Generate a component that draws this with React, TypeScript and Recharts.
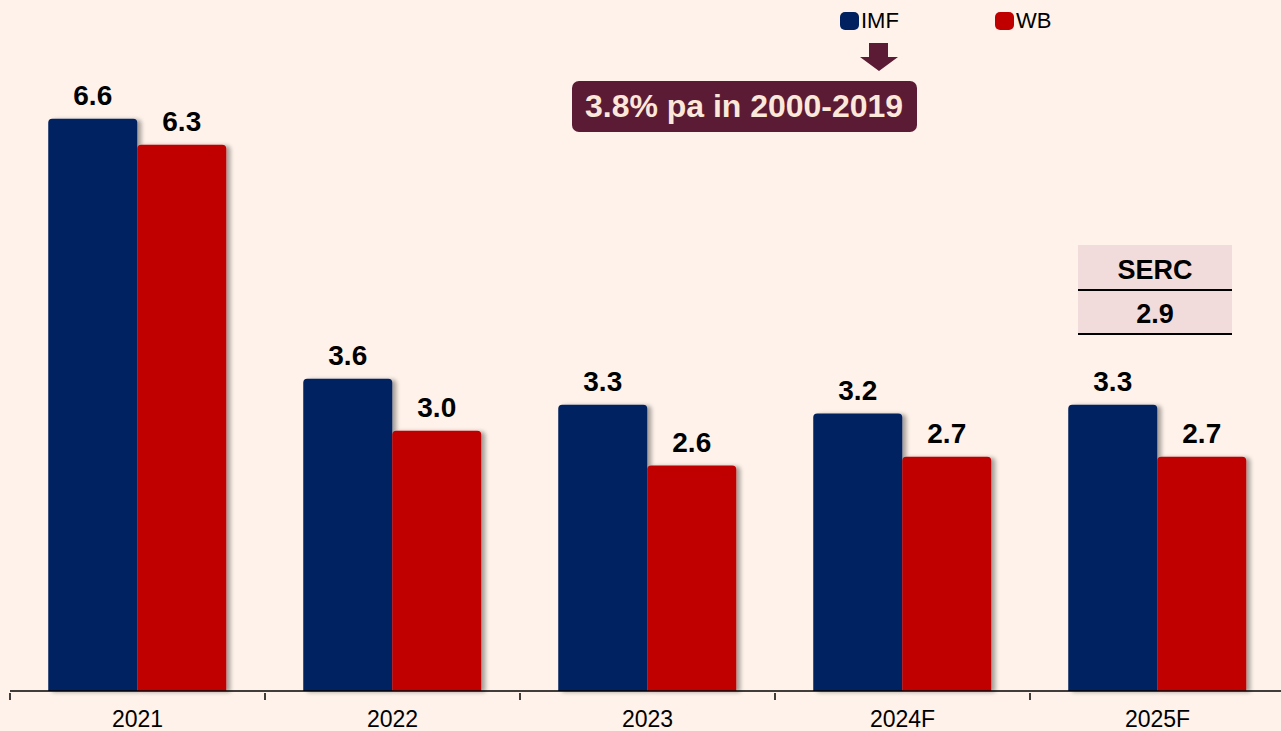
import React from "react";
import { Bar, BarChart, LabelList, XAxis, YAxis } from "recharts";

// Real GDP growth forecasts (%)
const years = ["2021", "2022", "2023", "2024F", "2025F"];
const imf = [6.6, 3.6, 3.3, 3.2, 3.3];
const wb = [6.3, 3.0, 2.6, 2.7, 2.7];
const serc2025 = 2.9;
const avgNote = "3.8% pa in 2000-2019";
const seriesLegend = [
  { name: "IMF", key: "IMF" },
  { name: "WB", key: "WB" },
];

const data = years.map((year, i) => ({ year, IMF: imf[i], WB: wb[i] }));

const NAVY = "#002060";
const RED = "#C00000";
const MAROON = "#5B1B34";
const BG = "#FEF2EA";
const FONT = "'Liberation Sans', Arial, sans-serif";
const HALF_BAND = 127.5;
const colors: Record<string, string> = { IMF: NAVY, WB: RED };

const labelStyle = { fontFamily: FONT, fontSize: 28, fontWeight: 700, fill: "#000" };

const YearTick = (props: any) => {
  const { x, y, payload } = props;
  return (
    <g>
      <line x1={x - HALF_BAND} y1={y} x2={x - HALF_BAND} y2={y + 7} stroke="#000" strokeWidth={1.5} />
      <text x={x} y={y + 34} textAnchor="middle" fontSize={23} fontFamily={FONT} fill="#000">
        {payload.value}
      </text>
    </g>
  );
};

export default function App() {
  return (
    <div
      style={{
        position: "fixed",
        left: 0,
        top: 0,
        width: 1281,
        height: 731,
        overflow: "hidden",
        background: BG,
      }}
    >
      <BarChart
        width={1285}
        height={731}
        data={data}
        margin={{ top: 84, right: 0, left: 10, bottom: 0 }}
        barCategoryGap="15%"
        barGap={0}
      >
        <defs>
          <filter id="barShadow" x="-10%" y="-10%" width="130%" height="120%">
            <feDropShadow dx={4} dy={1} stdDeviation={2} floodColor="#000" floodOpacity={0.35} />
          </filter>
        </defs>
        <XAxis
          dataKey="year"
          axisLine={{ stroke: "#000", strokeWidth: 1.5 }}
          tickLine={false}
          tickSize={0}
          tick={<YearTick />}
          height={40}
          interval={0}
        />
        <YAxis hide domain={[0, 7]} />
        <Bar dataKey="IMF" fill={NAVY} radius={[4, 4, 0, 0]} filter="url(#barShadow)" isAnimationActive={false}>
          <LabelList
            dataKey="IMF"
            position="top"
            offset={14}
            formatter={(v: any) => Number(v).toFixed(1)}
            style={labelStyle}
          />
        </Bar>
        <Bar dataKey="WB" fill={RED} radius={[4, 4, 0, 0]} filter="url(#barShadow)" isAnimationActive={false}>
          <LabelList
            dataKey="WB"
            position="top"
            offset={14}
            formatter={(v: any) => Number(v).toFixed(1)}
            style={labelStyle}
          />
        </Bar>
      </BarChart>

      {/* legend */}
      <div
        style={{
          position: "absolute",
          left: 840,
          top: 8,
          display: "flex",
          fontFamily: FONT,
          fontSize: 22,
          color: "#000",
        }}
      >
        {seriesLegend.map((item) => (
          <div key={item.key} style={{ display: "flex", alignItems: "center", width: 155 }}>
            <span
              style={{
                display: "inline-block",
                width: 19,
                height: 18,
                borderRadius: 5,
                background: colors[item.key],
                marginRight: 2,
              }}
            />
            {item.name}
          </div>
        ))}
      </div>

      {/* arrow + long-run average note */}
      <svg style={{ position: "absolute", left: 0, top: 0 }} width={1281} height={731} pointerEvents="none">
        <polygon points="869,43 888,43 888,57 898,57 879,71 860,57 869,57" fill={MAROON} />
        <rect x={572} y={81} width={345} height={51} rx={7} fill={MAROON} />
        <text
          x={744}
          y={117}
          textAnchor="middle"
          fontFamily={FONT}
          fontSize={31}
          fontWeight={700}
          fill="#FCE8DA"
          textLength={318}
          lengthAdjust="spacingAndGlyphs"
        >
          {avgNote}
        </text>

        {/* SERC forecast table */}
        <rect x={1078} y={245} width={154} height={89} fill="#F2DCDB" />
        <line x1={1078} y1={290} x2={1232} y2={290} stroke="#000" strokeWidth={2} />
        <line x1={1078} y1={334} x2={1232} y2={334} stroke="#000" strokeWidth={2} />
        <text x={1155} y={279} textAnchor="middle" fontFamily={FONT} fontSize={27} fontWeight={700} fill="#000">
          SERC
        </text>
        <text x={1155} y={323} textAnchor="middle" fontFamily={FONT} fontSize={27} fontWeight={700} fill="#000">
          {serc2025.toFixed(1)}
        </text>
      </svg>
    </div>
  );
}
